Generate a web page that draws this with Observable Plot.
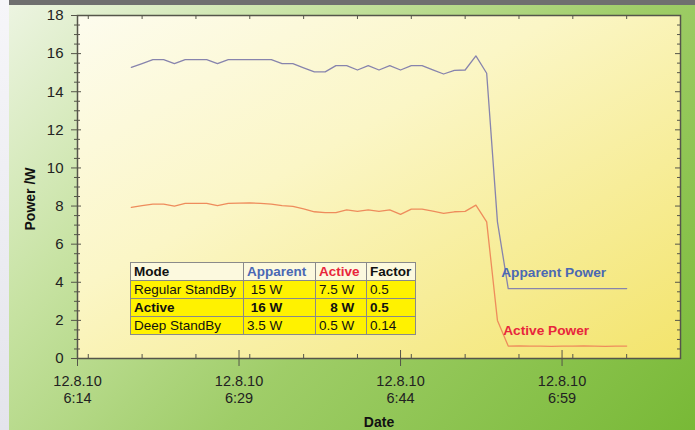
<!DOCTYPE html>
<html><head><meta charset="utf-8">
<script src="https://cdn.jsdelivr.net/npm/d3@7"></script>
<script src="https://cdn.jsdelivr.net/npm/@observablehq/plot@0.6"></script>
<style>
html,body{margin:0;padding:0;}
#wrap{position:relative;width:695px;height:430px;overflow:hidden;
  background:linear-gradient(135deg,#eef5e4 0%,#c8e3a4 28%,#9fcd68 58%,#78b936 100%);
  font-family:"Liberation Sans",Arial,sans-serif;}
#strip{position:absolute;left:0;top:0;width:9px;height:430px;background:linear-gradient(180deg,#f6f6f9,#e4e4ec);}
#bar{position:absolute;left:9px;top:0;width:686px;height:5px;background:#6f6f6f;}
#chart{position:absolute;left:0;top:0;}
#tbl{position:absolute;left:130px;top:262px;border-collapse:collapse;table-layout:fixed;width:285px;
  font-size:13.5px;color:#111;font-family:"Liberation Sans",Arial,sans-serif;}
#tbl td{border:1.5px solid #8a8a8a;padding:0 3px;height:17px;line-height:17px;white-space:pre;overflow:hidden;background:#fff200;}
#tbl tr.head td{background:#fcf9de;font-weight:bold;}
#tbl tr.bold td{font-weight:bold;}
</style>
</head><body>
<div id="wrap">
  <div id="strip"></div>
  <div id="chart"></div>
  <div id="bar"></div>
  <table id="tbl"></table>
</div>
<script>
// ---- data ----
const sampleStart = "2010-08-12T06:19:00Z"; // one sample per minute
const apparentPower = [15.28, 15.48, 15.68, 15.68, 15.47, 15.68, 15.68, 15.68, 15.47, 15.68,
  15.68, 15.68, 15.68, 15.68, 15.47, 15.47, 15.25, 15.04, 15.04, 15.37,
  15.37, 15.14, 15.37, 15.14, 15.37, 15.14, 15.37, 15.37, 15.15, 14.93,
  15.12, 15.14, 15.88, 14.97, 7.17, 3.67, 3.67, 3.67, 3.67, 3.67,
  3.67, 3.67, 3.67, 3.67, 3.67, 3.67, 3.67];
const activePower = [7.93, 8.02, 8.10, 8.10, 8.00, 8.14, 8.14, 8.14, 8.02, 8.14,
  8.15, 8.17, 8.14, 8.10, 8.02, 7.98, 7.85, 7.70, 7.66, 7.66,
  7.80, 7.72, 7.80, 7.72, 7.80, 7.56, 7.84, 7.84, 7.73, 7.62,
  7.70, 7.72, 8.05, 7.17, 2.00, 0.65, 0.66, 0.65, 0.65, 0.64,
  0.65, 0.65, 0.66, 0.65, 0.64, 0.65, 0.65];
const xDomain = ["2010-08-12T06:14:00Z", "2010-08-12T07:10:00Z"];
const majorTimes = ["2010-08-12T06:14:00Z", "2010-08-12T06:29:00Z", "2010-08-12T06:44:00Z", "2010-08-12T06:59:00Z"];
const yMajor = [0, 2, 4, 6, 8, 10, 12, 14, 16, 18];
const seriesLabels = [
  {text: "Apparent Power", time: "2010-08-12T06:53:21Z", value: 4.53},
  {text: "Active Power", time: "2010-08-12T06:53:32Z", value: 1.47}
];
const tableHeader = ["Mode", "Apparent", "Active", "Factor"];
const tableRows = [
  ["Regular StandBy", " 15 W", "7.5 W", "0.5"],
  ["Active", " 16 W", "   8 W", "0.5"],
  ["Deep StandBy", "3.5 W", "0.5 W", "0.14"]
];
const apparentColor = "#8784ad", activeColor = "#ee8c5c";
const apparentText = "#4a68b4", activeText = "#e8263c";
const axisColor = "#55554a";

// ---- build ----
const t0 = new Date(sampleStart).getTime();
const apparentSeries = apparentPower.map((v, i) => ({time: new Date(t0 + i * 60000), value: v}));
const activeSeries = activePower.map((v, i) => ({time: new Date(t0 + i * 60000), value: v}));
const dom = xDomain.map(d => new Date(d));
const majors = majorTimes.map(d => new Date(d));
const fiveMin = d3.utcMinute.every(5).range(dom[0], dom[1]);
const minorX = fiveMin.filter(d => !majors.some(m => +m === +d));
const yHalf = d3.range(0, 18.001, 0.5);
const yMinor = yHalf.filter(v => v % 2 !== 0);
const labels = seriesLabels.map(d => ({...d, time: new Date(d.time)}));
const pad = n => String(n).padStart(2, "0");
const fmt = d => `12.8.10\n${d.getUTCHours()}:${pad(d.getUTCMinutes())}`;
const none = () => "";

const plot = Plot.plot({
  width: 695, height: 430,
  marginLeft: 77, marginRight: 15, marginTop: 15, marginBottom: 72,
  style: {background: "none", fontFamily: "Liberation Sans, Arial, sans-serif", fontSize: "14.5px", color: "#222"},
  x: {type: "utc", domain: dom, label: null},
  y: {domain: [0, 18], label: null},
  marks: [
    Plot.frame({fill: "url(#plotBg)"}),
    Plot.lineY(apparentSeries, {x: "time", y: "value", stroke: apparentColor, strokeWidth: 1.3}),
    Plot.lineY(activeSeries, {x: "time", y: "value", stroke: activeColor, strokeWidth: 1.3}),
    Plot.frame({stroke: axisColor, strokeWidth: 1.5}),
    Plot.axisY({ticks: yMinor, tickSize: 6, dx: 3, tickFormat: none, label: null, stroke: axisColor}),
    Plot.axisY({ticks: yMajor, tickSize: 10, dx: 4, tickFormat: none, label: null, stroke: axisColor}),
    Plot.axisY({ticks: yMajor, tickSize: 0, tickPadding: 14, label: null, fontSize: 15}),
    Plot.axisY({ticks: yMinor, anchor: "right", tickSize: 4, dx: -4, tickFormat: none, label: null, stroke: axisColor}),
    Plot.axisY({ticks: yMajor, anchor: "right", tickSize: 6, dx: -6, tickFormat: none, label: null, stroke: axisColor}),
    Plot.axisX({ticks: minorX, tickSize: 4, dy: -4, tickFormat: none, label: null, stroke: axisColor}),
    Plot.axisX({ticks: majors, tickSize: 16, dy: -8, tickFormat: none, label: null, stroke: axisColor}),
    Plot.axisX({ticks: majors, tickSize: 0, tickPadding: 15, tickFormat: fmt, label: null, lineHeight: 1.17}),
    Plot.axisX({ticks: fiveMin, anchor: "top", tickSize: 3, dy: 3, tickFormat: none, label: null, stroke: axisColor}),
    Plot.text(labels.slice(0, 1), {x: "time", y: "value", text: "text", fill: apparentText, textAnchor: "start", fontWeight: "bold", fontSize: 13.7}),
    Plot.text(labels.slice(1, 2), {x: "time", y: "value", text: "text", fill: activeText, textAnchor: "start", fontWeight: "bold", fontSize: 13.7}),
    Plot.text(["Power /W"], {frameAnchor: "left", textAnchor: "middle", lineAnchor: "middle", dx: -47, dy: 12, rotate: -90, fontWeight: "bold", fontSize: 14, fill: "#111"}),
    Plot.text(["Date"], {frameAnchor: "bottom", textAnchor: "middle", lineAnchor: "middle", dy: 64, fontWeight: "bold", fontSize: 14, fill: "#111"})
  ]
});

// gradient for plot area
const svg = d3.select(plot);
const defs = svg.insert("defs", ":first-child");
const g = defs.append("linearGradient").attr("id", "plotBg").attr("x1", 0).attr("y1", 0).attr("x2", 1).attr("y2", 1);
g.append("stop").attr("offset", 0).attr("stop-color", "#fdfcee");
g.append("stop").attr("offset", 0.4).attr("stop-color", "#fbf6c6");
g.append("stop").attr("offset", 1).attr("stop-color", "#f3e46c");
document.getElementById("chart").appendChild(plot);

// table
const colW = [113, 72, 51, 49];
const tbl = d3.select("#tbl");
tbl.append("colgroup").selectAll("col").data(colW).join("col").style("width", d => d + "px");
const headColors = ["#111", apparentText, activeText, "#111"];
tbl.append("tr").attr("class", "head").selectAll("td").data(tableHeader).join("td")
  .text(d => d).style("color", (d, i) => headColors[i]);
tableRows.forEach((r, ri) => {
  tbl.append("tr").attr("class", ri === 1 ? "bold" : null).selectAll("td").data(r).join("td").text(d => d);
});
</script>
</body></html>
